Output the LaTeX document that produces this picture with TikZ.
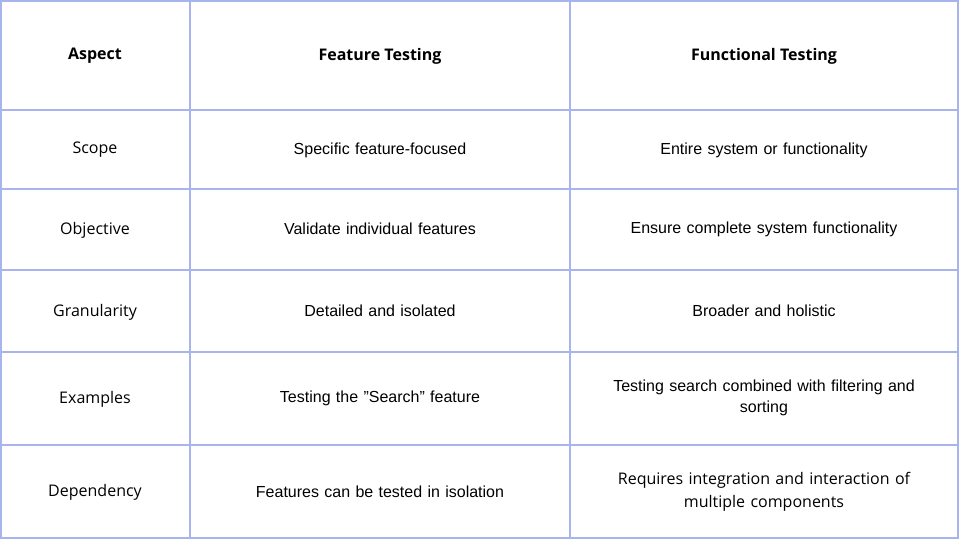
\documentclass[tikz,border=0pt]{standalone}
\usepackage{fontspec}
\setmainfont{Liberation Sans}
\newfontfamily\opensans{Open Sans}
\usetikzlibrary{positioning}
\definecolor{gridline}{HTML}{A7B4EE}
\tikzset{
  head/.style = {font = \opensans\fontsize{16}{20}\selectfont\bfseries, align = center},
  aspect/.style = {font = \opensans\fontsize{16}{20}\selectfont, align = center},
  cell/.style = {font = \fontsize{16}{21}\selectfont, align = center, text width = 360pt}
}
\begin{document}
\begin{tikzpicture}[x = 1pt, y = -1pt]
    \useasboundingbox (0, 0) rectangle (960, 540);
    % grid
    \draw [gridline, line width = 1.6pt] (1, 1) rectangle (958, 538);
    \foreach \x in {190, 570}
      \draw [gridline, line width = 1.6pt] (\x, 1) -- (\x, 538);
    \foreach \y in {110, 189, 270, 352, 445}
      \draw [gridline, line width = 1.6pt] (1, \y) -- (958, \y);
    % header
    \node [head] (h-1) at (95, 56) {Aspect};
    \node [head] (h-2) at (380, 56) {Feature Testing};
    \node [head] (h-3) at (764, 56) {Functional Testing};
    % rows
    \node [aspect] (a-1) at (95, 150) {Scope};
    \node [cell] (f-1) at (380, 150) {Specific feature-focused};
    \node [cell] (g-1) at (764, 150) {Entire system or functionality};
    \node [aspect] (a-2) at (95, 230) {Objective};
    \node [cell] (f-2) at (380, 229) {Validate individual features};
    \node [cell] (g-2) at (764, 229) {Ensure complete system functionality};
    \node [aspect] (a-3) at (95, 312) {Granularity};
    \node [cell] (f-3) at (380, 311) {Detailed and isolated};
    \node [cell] (g-3) at (764, 311) {Broader and holistic};
    \node [aspect] (a-4) at (95, 399) {Examples};
    \node [cell] (f-4) at (380, 398) {Testing the "Search" feature};
    \node [cell] (g-4) at (764, 398) {Testing search combined with filtering and\\sorting};
    \node [aspect] (a-5) at (95, 492) {Dependency};
    \node [cell] (f-5) at (380, 492) {Features can be tested in isolation};
    \node [cell, font = \opensans\fontsize{16}{23}\selectfont] (g-5) at (764, 492) {Requires integration and interaction of\\multiple components};
  \end{tikzpicture}
\end{document}
